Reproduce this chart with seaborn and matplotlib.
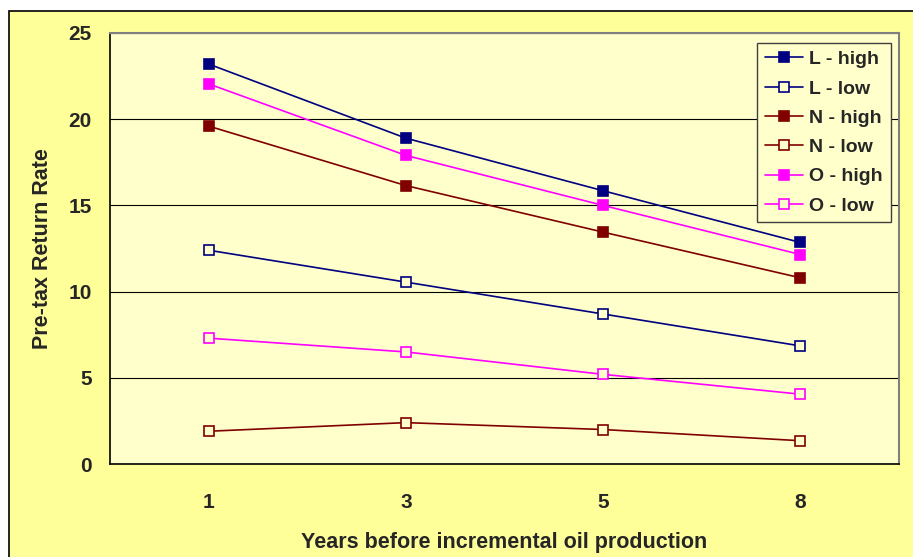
import numpy as np
import pandas as pd
import matplotlib.pyplot as plt
import seaborn as sns
from matplotlib.patches import Rectangle

# Values
years = ['1', '3', '5', '8']
l_high = [23.2, 18.9, 15.85, 12.85]
l_low = [12.4, 10.55, 8.7, 6.85]
n_high = [19.6, 16.15, 13.45, 10.8]
n_low = [1.9, 2.4, 2.0, 1.35]
o_high = [22.05, 17.9, 15.0, 12.15]
o_low = [7.3, 6.5, 5.2, 4.05]

series = [
    ('L - high', l_high, '#000080', True),
    ('L - low', l_low, '#000080', False),
    ('N - high', n_high, '#800000', True),
    ('N - low', n_low, '#800000', False),
    ('O - high', o_high, '#FF00FF', True),
    ('O - low', o_low, '#FF00FF', False),
]

sns.set_style('white')
plt.rcParams['font.family'] = ['Liberation Sans', 'DejaVu Sans']
plt.rcParams['font.weight'] = 'bold'

fig = plt.figure(figsize=(9.13, 5.57), dpi=100)
fig.patch.set_facecolor('white')
# outer chart area with border
fig.patches.append(Rectangle((9 / 913, -0.05), 1.05, 1 - 11 / 557 + 0.05,
                             transform=fig.transFigure, facecolor='#FFFF99',
                             edgecolor='black', linewidth=1.2, zorder=-10))

ax = fig.add_axes([110 / 913, 1 - 464 / 557, (899 - 110) / 913, (464 - 33) / 557])
ax.set_facecolor('#FFFFCC')

xpos = np.arange(len(years))
for name, vals, color, filled in series:
    df = pd.DataFrame({'x': xpos, 'y': vals})
    sns.lineplot(data=df, x='x', y='y', ax=ax, color=color, linewidth=1.2,
                 marker='s', markersize=7 if filled else 6.5,
                 markerfacecolor=color if filled else '#FFFFCC',
                 markeredgecolor=color, markeredgewidth=1.2,
                 label=name)

ax.set_xlim(-0.5, len(years) - 0.5)
ax.set_ylim(0, 25)
ax.set_yticks([0, 5, 10, 15, 20, 25])
ax.set_xticks(xpos)
ax.set_xticklabels(years)
ax.set_xticks(np.arange(len(years) + 1) - 0.5, minor=True)
ax.tick_params(axis='x', which='major', length=0, pad=21, labelsize=15)
ax.tick_params(axis='x', which='minor', length=6, direction='in', color='#404040')
ax.tick_params(axis='y', length=0, left=False, pad=13, labelsize=15)
for lab in ax.get_xticklabels() + ax.get_yticklabels():
    lab.set_fontweight('bold')

ax.yaxis.grid(True, color='black', linewidth=0.8)
ax.set_axisbelow(True)
for side in ['top', 'right']:
    ax.spines[side].set_color('#808080')
    ax.spines[side].set_linewidth(1.5)
for side in ['left', 'bottom']:
    ax.spines[side].set_color('black')
    ax.spines[side].set_linewidth(1.2)

ax.set_xlabel('Years before incremental oil production', fontsize=15.5,
              fontweight='bold', labelpad=14)
ax.set_ylabel('Pre-tax Return Rate', fontsize=15.5, fontweight='bold', labelpad=11)

leg = ax.legend(loc='upper right', bbox_to_anchor=(0.9895, 0.977), fontsize=14,
                frameon=True, fancybox=False, handlelength=2.0, handletextpad=0.3,
                borderpad=0.4, labelspacing=0.6, borderaxespad=0)
leg.get_frame().set_facecolor('#FFFFCC')
leg.get_frame().set_edgecolor('#404040')
leg.get_frame().set_linewidth(1.0)
leg.get_frame().set_alpha(1)
for t in leg.get_texts():
    t.set_fontweight('bold')

fig.savefig('out.png', dpi=100, facecolor=fig.get_facecolor())
